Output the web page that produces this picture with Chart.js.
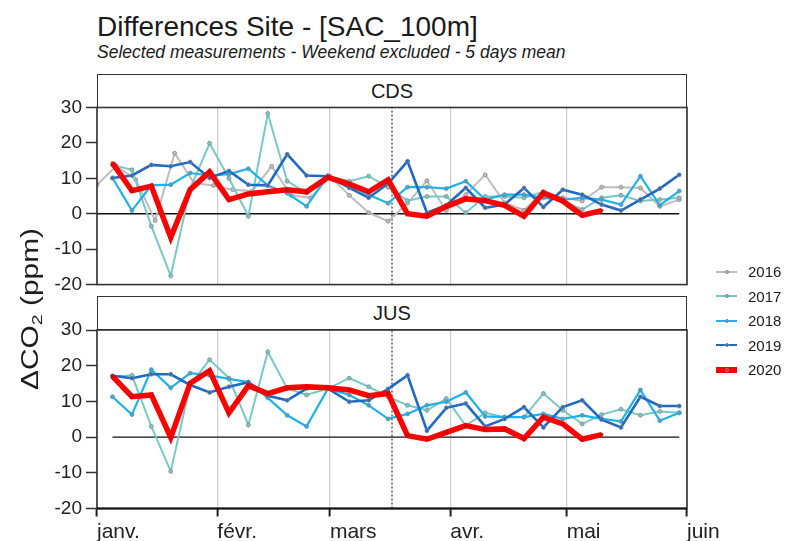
<!DOCTYPE html>
<html lang="fr">
<head>
<meta charset="UTF-8">
<title>Differences Site - [SAC_100m]</title>
<script src="https://cdn.jsdelivr.net/npm/chart.js"></script>
<style>
    body {
        margin: 0;
        background: #fff;
        font-family: 'Liberation Sans', Arial, sans-serif;
        color: #1a1a1a;
    }
    #wrap {
        position: relative;
        width: 788px;
        height: 541px;
        overflow: hidden;
    }
    .title {
        position: absolute;
        left: 97px;
        top: 13px;
        font-size: 28px;
        line-height: 1;
        white-space: nowrap;
    }
    .subtitle {
        position: absolute;
        left: 97px;
        top: 43.5px;
        font-size: 17.5px;
        line-height: 1;
        font-style: italic;
        white-space: nowrap;
    }
    .strip {
        position: absolute;
        left: 97px;
        width: 590px;
        height: 34px;
        border: 1.5px solid #333;
        box-sizing: border-box;
        text-align: center;
        font-size: 20px;
        line-height: 33px;
        background: #fff;
    }
    canvas {
        position: absolute;
        left: 0;
    }
    .ytitle {
        position: absolute;
        left: 31px;
        top: 309px;
        transform: translate(-50%, -50%) rotate(-90deg) scaleX(1.3);
        font-size: 23px;
        white-space: nowrap;
    }
    .ytitle sub {
        font-size: 15px;
        vertical-align: -4px;
    }
    #legend {
        position: absolute;
        left: 716px;
        top: 259.5px;
        font-size: 15px;
    }
    #legend .row {
        height: 24.5px;
        display: flex;
        align-items: center;
    }
    #legend .sw {
        position: relative;
        width: 21px;
        height: 10px;
        margin-right: 11px;
    }
    #legend .sw i {
        position: absolute;
        left: 0;
        right: 0;
        top: 50%;
        transform: translateY(-50%);
    }
    #legend .sw b {
        position: absolute;
        left: 50%;
        top: 50%;
        width: 4px;
        height: 4px;
        border: 1px solid #888;
        border-radius: 50%;
        box-sizing: border-box;
        transform: translate(-50%, -50%);
    }
</style>
</head>
<body>
<div id="wrap">
    <div class="title">Differences Site - [SAC_100m]</div>
    <div class="subtitle">Selected measurements - Weekend excluded - 5 days mean</div>
    <div class="strip" style="top:74px">CDS</div>
    <div class="strip" style="top:296px">JUS</div>
    <canvas id="cds" width="788" height="300" style="top:0"></canvas>
    <canvas id="jus" width="788" height="251" style="top:290px"></canvas>
    <div class="ytitle">ΔCO<sub>2</sub> (ppm)</div>
    <div id="legend"></div>
</div>

<script>
    // x axis = day of year (0 = 1 janv.)
    const monthTicks = [0, 31, 60, 91, 121, 152];
    const monthLabels = ['janv.', 'févr.', 'mars', 'avr.', 'mai', 'juin'];
    const yTicks = [-20, -10, 0, 10, 20, 30];
    const lockdownDay = 76; // 17 mars

    const days2016 = [0, 5, 10, 15, 20, 25, 30, 35, 40, 45, 50, 55, 60, 65, 70, 75,
                      80, 85, 90, 95, 100, 105, 110, 115, 120, 125, 130, 135, 140, 145, 150];
    const days = [4, 9, 14, 19, 24, 29, 34, 39, 44, 49, 54, 59.5, 65, 70, 75,
                  80, 85, 90, 95, 100, 105, 110, 115, 120, 125, 130, 135, 140, 145, 150];

    // CDS
    const cds2016 = [8.2, 13.5, 9.6, -1.9, 17.1, 8.7, 8.0, 6.8, 6.4, 13.4, 5.2, 4.5, 10.6, 5.2, 0.3, -2.1,
                     3.0, 9.3, 0.9, 5.4, 11.0, 3.1, 1.0, 6.2, 4.5, 3.6, 7.5, 7.5, 7.3, 2.1, 4.0];
    const cds2017 = [13.8, 12.4, -3.5, -17.5, 7.0, 19.9, 10.0, -0.7, 28.3, 9.2, 5.9, 10.6, 9.2, 10.6, 7.5,
                     3.7, 4.9, 4.9, 0.3, 4.9, 4.9, 4.5, 6.2, 3.6, 1.2, 4.5, 5.2, 3.6, 4.0, 4.5];
    const cds2018 = [10.1, 0.9, 8.0, 8.2, 11.5, 10.8, 11.2, 12.7, 8.0, 5.8, 2.1, 10.8, 8.0, 5.4, 3.0,
                     7.5, 7.5, 7.1, 9.2, 4.0, 5.4, 5.4, 4.5, 4.0, 4.5, 4.0, 2.6, 10.6, 2.4, 6.4];
    const cds2019 = [10.1, 10.8, 13.8, 13.4, 14.6, 10.1, 12.1, 8.2, 8.0, 16.8, 10.8, 10.6, 7.3, 4.5, 8.5,
                     14.8, 0.3, 2.4, 7.3, 1.7, 2.6, 7.3, 1.9, 6.8, 5.4, 2.6, 0.9, 4.0, 7.1, 11.0];
    const cds2020 = [14.3, 6.5, 7.8, -6.7, 6.8, 11.8, 4.0, 5.6, 6.2, 6.8, 6.2, 10.3, 8.4, 6.2, 9.6,
                     0.0, -0.7, 2.1, 4.2, 3.7, 2.4, -0.7, 5.9, 3.6, -0.4, 0.9];

    // JUS
    const jus2017 = [17.0, 17.3, 3.0, -9.6, 14.6, 21.7, 16.5, 3.4, 23.9, 13.6, 11.8, 13.6, 16.5, 14.1, 11.3,
                     8.9, 7.5, 10.8, 3.2, 6.8, 5.6, 5.6, 12.2, 7.5, 3.7, 6.3, 7.8, 6.1, 7.2, 6.8];
    const jus2018 = [11.3, 6.3, 18.9, 13.8, 17.9, 17.3, 16.3, 15.4, 11.0, 6.1, 3.0, 13.6, 11.8, 8.9, 5.1,
                     6.5, 8.9, 9.9, 12.5, 5.8, 5.6, 5.6, 6.5, 5.1, 6.1, 5.1, 4.4, 13.2, 4.6, 6.8];
    const jus2019 = [17.2, 16.5, 17.6, 17.6, 14.6, 12.5, 14.1, 15.4, 11.6, 10.3, 13.6, 13.6, 9.9, 10.3, 13.5,
                     17.3, 1.8, 8.2, 9.4, 3.0, 5.1, 8.4, 2.7, 8.4, 10.3, 4.9, 2.7, 11.3, 8.7, 8.7];
    const jus2020 = [17.0, 11.3, 11.8, -0.1, 15.1, 18.6, 6.8, 14.4, 12.2, 13.8, 14.1, 13.8, 13.2, 11.6, 12.2,
                     0.4, -0.6, 1.3, 3.2, 2.1, 2.3, -0.4, 5.6, 3.7, -0.6, 0.7];

    const styles = {
        '2016': { color: '#BDBDBD', width: 2,   point: 2,   order: 4 },
        '2017': { color: '#78C8C6', width: 2,   point: 2,   order: 3 },
        '2018': { color: '#1CB2EA', width: 2.2, point: 2,   order: 2 },
        '2019': { color: '#1F6BC3', width: 2.6, point: 2,   order: 1 },
        '2020': { color: '#FF0000', width: 5.5, point: 1.5, order: 0 }
    };

    function lineSet(year, x, y) {
        const s = styles[year];
        return {
            label: year,
            data: y.map((v, i) => ({ x: x[i], y: v })),
            borderColor: s.color,
            borderWidth: s.width,
            pointRadius: s.point,
            pointBorderWidth: 0.8,
            pointBorderColor: year === '2020' ? 'rgba(110,0,0,0.6)' : '#8a8a8a',
            pointBackgroundColor: s.color,
            tension: 0,
            order: s.order
        };
    }

    function refLines(from, to) {
        return [
            { data: [{ x: from, y: 0 }, { x: to, y: 0 }], borderColor: '#111', borderWidth: 1.4,
              pointRadius: 0, order: 10 },
            { data: [{ x: lockdownDay, y: -20 }, { x: lockdownDay, y: 30 }], borderColor: '#444',
              borderWidth: 1.3, borderDash: [2, 2], pointRadius: 0, order: 11 }
        ];
    }

    const framePlugin = {
        id: 'frame',
        afterDatasetsDraw(chart, args, opts) {
            const { ctx, chartArea: a } = chart;
            ctx.save();
            ctx.strokeStyle = '#333';
            ctx.lineWidth = 1.6;
            ctx.strokeRect(a.left, a.top, a.right - a.left, a.bottom - a.top);
            if (opts.thickBottom) {
                ctx.strokeStyle = '#111';
                ctx.lineWidth = 2.2;
                ctx.beginPath();
                ctx.moveTo(a.left, a.bottom);
                ctx.lineTo(a.right, a.bottom);
                ctx.stroke();
            }
            ctx.restore();
        }
    };

    function makePanel(id, sets, showX, padding) {
        const all = sets.flatMap(d => d.data.map(p => p.x));
        const datasets = sets.concat(refLines(Math.min(...all), Math.max(...all)));
        return new Chart(document.getElementById(id), {
            type: 'line',
            data: { datasets },
            plugins: [framePlugin],
            options: {
                responsive: false,
                animation: false,
                layout: { padding, autoPadding: false },
                plugins: {
                    legend: { display: false },
                    tooltip: { enabled: false },
                    frame: { thickBottom: showX }
                },
                scales: {
                    x: {
                        type: 'linear',
                        min: 0,
                        max: 152,
                        afterBuildTicks: s => { s.ticks = monthTicks.map(v => ({ value: v })); },
                        afterFit: s => { s.height = showX ? 32.5 : 0; },
                        grid: { color: '#cccccc', lineWidth: 1.2, drawTicks: showX,
                                tickLength: 8, tickColor: '#222', tickWidth: 2 },
                        border: { display: false },
                        ticks: {
                            display: showX,
                            align: 'start',
                            padding: 3,
                            color: '#222',
                            font: { size: 21, family: "'Liberation Sans', Arial, sans-serif" },
                            callback: (v, i) => monthLabels[i]
                        }
                    },
                    y: {
                        min: -20,
                        max: 30,
                        afterBuildTicks: s => { s.ticks = yTicks.map(v => ({ value: v })); },
                        afterFit: s => { s.width = 97; },
                        grid: { drawOnChartArea: false, drawTicks: true, tickLength: 11,
                                tickColor: '#333', tickWidth: 1.5 },
                        border: { display: false },
                        ticks: {
                            padding: 4,
                            color: '#222',
                            font: { size: 19, family: "'Liberation Sans', Arial, sans-serif" }
                        }
                    }
                }
            }
        });
    }

    makePanel('cds', [
        lineSet('2016', days2016, cds2016),
        lineSet('2017', days, cds2017),
        lineSet('2018', days, cds2018),
        lineSet('2019', days, cds2019),
        lineSet('2020', days, cds2020)
    ], false, { left: 0, right: 101, top: 107.5, bottom: 14 });

    makePanel('jus', [
        lineSet('2017', days, jus2017),
        lineSet('2018', days, jus2018),
        lineSet('2019', days, jus2019),
        lineSet('2020', days, jus2020)
    ], true, { left: 0, right: 101, top: 40, bottom: 0 });

    // legend
    const legend = document.getElementById('legend');
    Object.keys(styles).forEach(year => {
        const s = styles[year];
        const row = document.createElement('div');
        row.className = 'row';
        const h = year === '2020' ? 6 : 2;
        row.innerHTML = `<span class="sw"><i style="background:${s.color};height:${h}px"></i>` +
            `<b style="background:${s.color}"></b></span>${year}`;
        legend.appendChild(row);
    });
</script>
</body>
</html>
